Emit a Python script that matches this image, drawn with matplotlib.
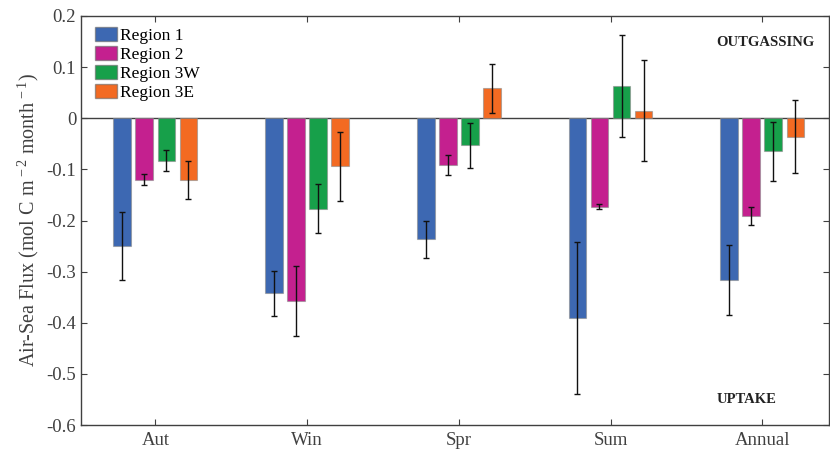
import numpy as np
import matplotlib
matplotlib.use("Agg")
import matplotlib.pyplot as plt
from matplotlib.patches import Patch

plt.rcParams['font.family'] = ['Liberation Serif', 'DejaVu Serif']
plt.rcParams['mathtext.fontset'] = 'custom'
plt.rcParams['mathtext.rm'] = 'Liberation Serif'
plt.rcParams['mathtext.it'] = 'Liberation Serif:italic'

seasons = ["Aut", "Win", "Spr", "Sum", "Annual"]
regions = ["Region 1", "Region 2", "Region 3W", "Region 3E"]
colors = ["#3D68B2", "#C4208F", "#17A04A", "#F36A22"]

# mean air-sea flux per region, one value per season
region1 = [-0.250, -0.342, -0.237, -0.391, -0.316]
region2 = [-0.120, -0.357, -0.091, -0.173, -0.191]
region3w = [-0.083, -0.177, -0.053, 0.063, -0.065]
region3e = [-0.120, -0.094, 0.059, 0.015, -0.036]

# error bar half-widths
region1_err = [0.067, 0.044, 0.037, 0.148, 0.069]
region2_err = [0.011, 0.068, 0.020, 0.005, 0.017]
region3w_err = [0.021, 0.048, 0.044, 0.099, 0.057]
region3e_err = [0.037, 0.067, 0.048, 0.098, 0.072]

means = [region1, region2, region3w, region3e]
errs = [region1_err, region2_err, region3w_err, region3e_err]

fig = plt.figure(figsize=(8.3, 4.5), dpi=100)
ax = fig.add_axes([81 / 830, 25 / 450, 748 / 830, 409 / 450])

x = np.arange(1, len(seasons) + 1)
pitch = 0.8 * 4 / 5.5 / 4
width = 0.8 * pitch
for i, (m, e, c) in enumerate(zip(means, errs, colors)):
    xs = x + (i - 1.5) * pitch
    ax.bar(xs, m, width=width, color=c, edgecolor=(0.55, 0.55, 0.55, 0.6),
           linewidth=0.8, zorder=2)
    ax.errorbar(xs, m, yerr=e, fmt='none', ecolor='#111111', elinewidth=1.0,
                capsize=2.5, capthick=1.0, zorder=3)

ax.axhline(0, color='#404040', linewidth=1.0, zorder=1)

ax.set_xlim(0.51, 5.44)
ax.set_ylim(-0.6, 0.2)
ax.set_xticks(x)
ax.set_xticklabels(seasons)
yt = np.round(np.arange(-0.6, 0.21, 0.1), 1)
ax.set_yticks(yt)
ax.set_yticklabels(["0" if v == 0 else f"{v:g}" for v in yt])

for s in ax.spines.values():
    s.set_color('#404040')
    s.set_linewidth(1.0)
ax.tick_params(direction='in', length=4, width=0.8, color='#404040',
               labelcolor='#404040', labelsize=13.5, top=True, right=True)
ax.tick_params(axis='x', pad=5)

ax.set_ylabel(r"Air-Sea Flux (mol C m$^{\,-2}$ month$^{\,-1}$)", fontsize=14.5,
              color='#404040', labelpad=4)

handles = [Patch(facecolor=c, edgecolor=(0.4, 0.4, 0.4, 0.6), label=r)
           for c, r in zip(colors, regions)]
ax.legend(handles=handles, loc='upper left', frameon=False, fontsize=12.5,
          handlelength=1.25, handleheight=0.85, handletextpad=0.15,
          labelspacing=0.12, borderaxespad=0.0, bbox_to_anchor=(0.01, 0.99))

ax.text(4.70, 0.149, "OUTGASSING", fontsize=10.5, fontweight='bold',
        color='#222222', ha='left', va='center')
ax.text(4.70, -0.550, "UPTAKE", fontsize=10.5, fontweight='bold',
        color='#222222', ha='left', va='center')

fig.savefig("out.png", dpi=100)
